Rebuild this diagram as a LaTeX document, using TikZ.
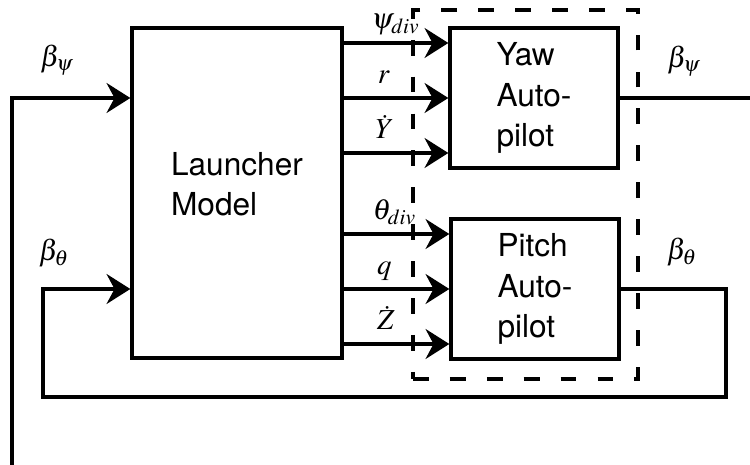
\documentclass[tikz,border=0pt]{standalone}
\usepackage{mathptmx}
\usepackage{fontspec}
\setsansfont{TeX Gyre Heros}
\usepackage{tikz}
\usetikzlibrary{positioning, arrows.meta}

\begin{document}
\begin{tikzpicture}[
        blk/.style={
          rectangle,
          draw=black,
          line width=1.9pt,
          align=left,
          inner sep=0pt,
          font=\sffamily\fontsize{18}{23.2}\selectfont
        },
        sig/.style={-{Stealth[length=13.5pt, width=17pt, inset=4.5pt]}, line width=1.9pt},
        wire/.style={line width=1.9pt},
        sym/.style={font=\fontsize{16.5}{19}\selectfont, inner sep=0pt},
        tag/.style={sym, anchor=base west, yshift=8pt}
      ]
        \useasboundingbox (0,0) rectangle (15,9.3);

        \node (launcher)   at (4.74, 5.44)  [blk, minimum width=4.2cm, minimum height=6.6cm, text depth=0.36cm] {Launcher\\Model};
        \node (yaw)        at (10.68, 7.34) [blk, minimum width=3.36cm, minimum height=2.8cm] {Yaw\\Auto-\\pilot};
        \node (pitch)      at (10.70, 3.52) [blk, minimum width=3.36cm, minimum height=2.8cm] {Pitch\\Auto-\\pilot};
        \node (autopilots) at (10.51, 5.41) [draw, line width=1.9pt, dash pattern=on 9pt off 12pt, minimum width=4.5cm, minimum height=7.38cm] {};

        \foreach \k/\dy in {1/1.1, 2/0, 3/-1.1} {
          \coordinate (yawin\k)   at ([yshift=\dy cm]yaw.west);
          \coordinate (pitchin\k) at ([yshift=\dy cm]pitch.west);
        }

        \draw[sig] (launcher.east |- yawin1) -- (yawin1) node (psidiv) [tag, pos=0.25] {$\psi_{div}$};
        \draw[sig] (launcher.east |- yawin2) -- (yawin2) node (yawrate) [tag, pos=0.31] {$r$};
        \draw[sig] (launcher.east |- yawin3) -- (yawin3) node (ydot) [tag, pos=0.29] {$\dot{Y}$};
        \draw[sig] (launcher.east |- pitchin1) -- (pitchin1) node (thetadiv) [tag, pos=0.26] {$\theta_{div}$};
        \draw[sig] (launcher.east |- pitchin2) -- (pitchin2) node (pitchrate) [tag, pos=0.3] {$q$};
        \draw[sig] (launcher.east |- pitchin3) -- (pitchin3) node (zdot) [tag, pos=0.3] {$\dot{Z}$};

        \coordinate (yawout) at (15, 7.34);
        \coordinate (yawret) at (0.24, 0);
        \draw[wire] (yaw.east) -- (yawout);
        \draw[sig] (yawret) |- (launcher.west |- yaw.east);

        \coordinate (pitchturn) at (14.52, 1.36);
        \coordinate (pitchret)  at (0.86, 1.36);
        \draw[sig] (pitch.east) -| (pitchturn) -- (pitchret) |- (launcher.west |- pitch.east);

        \node (bpsiin)  at (1.14, 8.10)  [sym] {$\beta_\psi$};
        \node (bpsiout) at (13.68, 8.08) [sym] {$\beta_\psi$};
        \node (bthin)   at (1.08, 4.24)  [sym] {$\beta_\theta$};
        \node (bthout)  at (13.64, 4.26) [sym] {$\beta_\theta$};
      \end{tikzpicture}
\end{document}
